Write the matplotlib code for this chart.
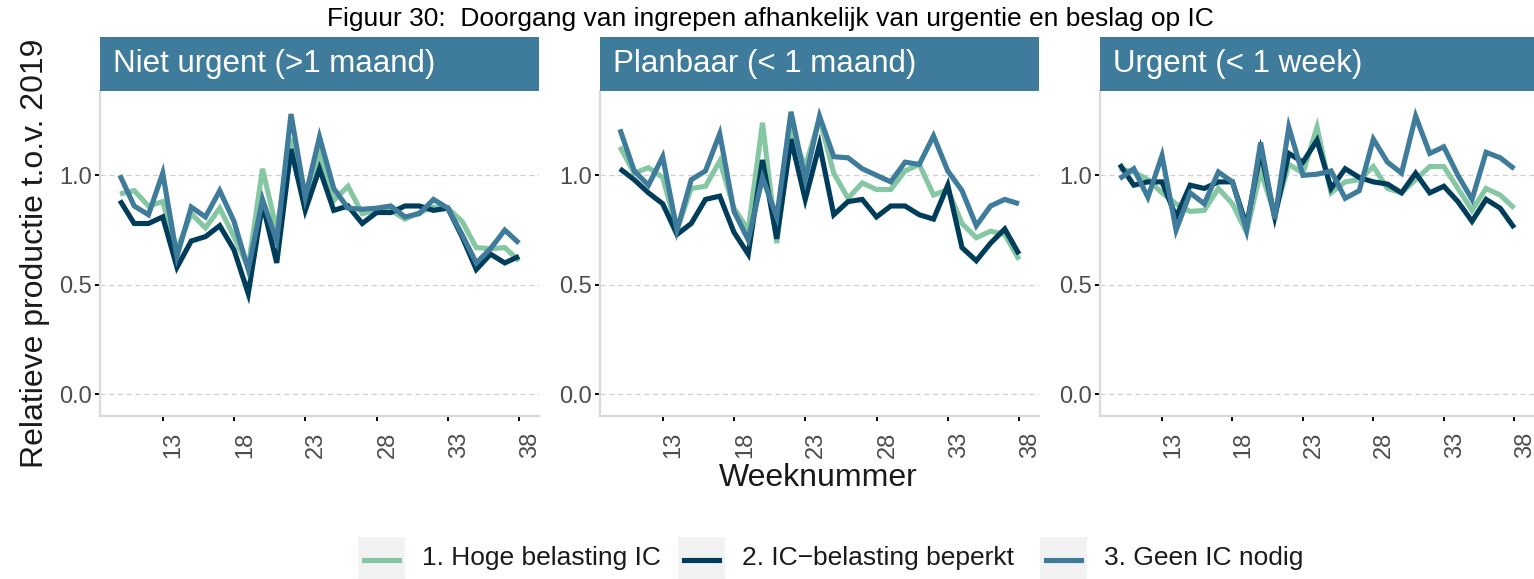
"""Doorgang van ingrepen per urgentie en IC-beslag (Figuur 30)."""

import matplotlib

matplotlib.use("Agg")
import matplotlib.pyplot as plt
from matplotlib.patches import Rectangle
from matplotlib.lines import Line2D

plt.rcParams["font.family"] = ["Liberation Sans", "DejaVu Sans"]

WEEKS = list(range(10, 39))

PANELS = ["Niet urgent (>1 maand)", "Planbaar (< 1 maand)", "Urgent (< 1 week)"]
SERIES = ["1. Hoge belasting IC", "2. IC\u2212belasting beperkt", "3. Geen IC nodig"]
COLORS = ["#86c7a3", "#003d5b", "#3f7c9c"]

# relatieve productie t.o.v. 2019, per paneel en per reeks
niet_urgent = {
    SERIES[0]: [0.915, 0.93, 0.86, 0.88, 0.66, 0.825, 0.76, 0.85, 0.72, 0.58,
                1.03, 0.75, 1.17, 0.90, 1.10, 0.885, 0.95, 0.825, 0.84, 0.84,
                0.80, 0.83, 0.855, 0.85, 0.79, 0.67, 0.665, 0.67, 0.61],
    SERIES[1]: [0.885, 0.78, 0.78, 0.81, 0.58, 0.70, 0.72, 0.77, 0.66, 0.46,
                0.87, 0.60, 1.12, 0.84, 1.03, 0.84, 0.86, 0.78, 0.83, 0.83,
                0.86, 0.86, 0.84, 0.85, 0.72, 0.57, 0.64, 0.60, 0.63],
    SERIES[2]: [1.0, 0.86, 0.82, 1.01, 0.63, 0.855, 0.81, 0.93, 0.79, 0.57,
                0.89, 0.70, 1.28, 0.90, 1.175, 0.94, 0.85, 0.845, 0.85, 0.86,
                0.81, 0.825, 0.89, 0.85, 0.73, 0.60, 0.665, 0.75, 0.69],
}
planbaar = {
    SERIES[0]: [1.13, 1.01, 1.035, 0.99, 0.75, 0.94, 0.95, 1.065, 0.85, 0.75,
                1.24, 0.69, 1.20, 1.04, 1.26, 1.01, 0.895, 0.965, 0.935, 0.935,
                1.02, 1.05, 0.91, 0.935, 0.78, 0.715, 0.745, 0.73, 0.615],
    SERIES[1]: [1.03, 0.98, 0.92, 0.87, 0.73, 0.78, 0.89, 0.905, 0.74, 0.64,
                1.07, 0.71, 1.165, 0.89, 1.14, 0.82, 0.88, 0.89, 0.81, 0.86,
                0.86, 0.82, 0.80, 0.955, 0.67, 0.61, 0.69, 0.755, 0.64],
    SERIES[2]: [1.21, 1.02, 0.955, 1.085, 0.75, 0.98, 1.02, 1.19, 0.835, 0.705,
                0.99, 0.81, 1.29, 0.98, 1.27, 1.085, 1.08, 1.03, 1.0, 0.97,
                1.06, 1.05, 1.18, 1.02, 0.93, 0.77, 0.86, 0.89, 0.87],
}
urgent = {
    SERIES[0]: [1.03, 1.015, 0.98, 0.92, 0.87, 0.835, 0.84, 0.94, 0.87, 0.74,
                1.02, 0.82, 1.05, 1.01, 1.22, 0.92, 0.97, 0.98, 1.04, 0.94,
                0.92, 0.98, 1.04, 1.04, 0.94, 0.84, 0.94, 0.91, 0.85],
    SERIES[1]: [1.05, 0.955, 0.97, 0.97, 0.81, 0.955, 0.94, 0.97, 0.97, 0.77,
                1.11, 0.81, 1.10, 1.06, 1.16, 0.94, 1.03, 0.99, 0.97, 0.96,
                0.92, 1.01, 0.92, 0.95, 0.88, 0.79, 0.89, 0.85, 0.76],
    SERIES[2]: [0.985, 1.03, 0.90, 1.09, 0.75, 0.92, 0.87, 1.015, 0.97, 0.75,
                1.15, 0.80, 1.22, 1.0, 1.005, 1.02, 0.895, 0.93, 1.165, 1.06,
                1.01, 1.27, 1.10, 1.13, 1.0, 0.89, 1.105, 1.08, 1.03],
}
DATA = [niet_urgent, planbaar, urgent]

X_TICKS = [13, 18, 23, 28, 33, 38]
Y_TICKS = [0.0, 0.5, 1.0]

W, H = 1534, 579
STRIP = "#3f7c9c"
AXIS_GREY = "#d9d9d9"
TEXT_GREY = "#4d4d4d"
TEXT_DARK = "#1a1a1a"

fig = plt.figure(figsize=(W / 100, H / 100), dpi=100)


def px_box(x0, y0, x1, y1):
    """Figure fraction box from pixel coordinates (origin top-left)."""
    return [x0 / W, 1 - y1 / H, (x1 - x0) / W, (y1 - y0) / H]


panel_x = [(100, 539), (600, 1039), (1100, 1534)]
for i, ((x0, x1), title, data) in enumerate(zip(panel_x, PANELS, DATA)):
    ax = fig.add_axes(px_box(x0, 91, x1, 416))
    for name, color in zip(SERIES, COLORS):
        ax.plot(WEEKS, data[name], color=color, linewidth=3.7,
                solid_joinstyle="miter", solid_capstyle="butt")
    ax.set_xlim(8.6, 39.4)
    ax.set_ylim(-0.099, 1.385)
    ax.set_xticks(X_TICKS)
    ax.set_yticks(Y_TICKS)
    ax.set_yticklabels([f"{v:.1f}" for v in Y_TICKS])
    ax.set_xticklabels([str(v) for v in X_TICKS], rotation=90, va="top")
    ax.tick_params(axis="both", length=3.5, width=1.4, color="black",
                   labelsize=17, labelcolor=TEXT_GREY, pad=2)
    ax.tick_params(axis="x", pad=8)
    for lab in ax.get_xticklabels():
        lab.set_horizontalalignment("left")
    for side in ("top", "right"):
        ax.spines[side].set_visible(False)
    for side in ("left", "bottom"):
        ax.spines[side].set_color(AXIS_GREY)
        ax.spines[side].set_linewidth(1.6)
    ax.grid(axis="y", color="#cfcfcf", linestyle=(0, (4, 3)), linewidth=0.9)
    ax.set_axisbelow(True)

    strip = fig.add_axes(px_box(x0, 37, x1, 91))
    strip.set_facecolor(STRIP)
    strip.set_xticks([])
    strip.set_yticks([])
    for s in strip.spines.values():
        s.set_visible(False)
    strip.text(13 / (x1 - x0), 0.5, title, color="white", fontsize=22.5,
               ha="left", va="center", transform=strip.transAxes)

fig.text(770 / W, 1 - 19 / H,
         "Figuur 30:  Doorgang van ingrepen afhankelijk van urgentie en beslag op IC",
         ha="center", va="center", fontsize=19, color="black")
fig.text(35 / W, 1 - 253 / H, "Relatieve productie t.o.v. 2019", rotation=90,
         ha="center", va="center", fontsize=23, color=TEXT_DARK)
fig.text(818 / W, 1 - 478 / H, "Weeknummer", ha="center", va="center",
         fontsize=23, color=TEXT_DARK)

# legend drawn by hand, ggplot style keys with grey background
key_x = [358, 678, 1040]
for kx, name, color in zip(key_x, SERIES, COLORS):
    fig.patches.append(Rectangle((kx / W, 1 - 579 / H), 47 / W, 42 / H,
                                 transform=fig.transFigure, facecolor="#f2f2f2",
                                 edgecolor="none"))
    fig.lines.append(Line2D([(kx + 6) / W, (kx + 41) / W], [1 - 560 / H] * 2,
                            transform=fig.transFigure, color=color, linewidth=3.7))
    fig.text((kx + 64) / W, 1 - 558 / H, name, ha="left", va="center",
             fontsize=19, color=TEXT_DARK)

fig.savefig("out.png", dpi=100)
